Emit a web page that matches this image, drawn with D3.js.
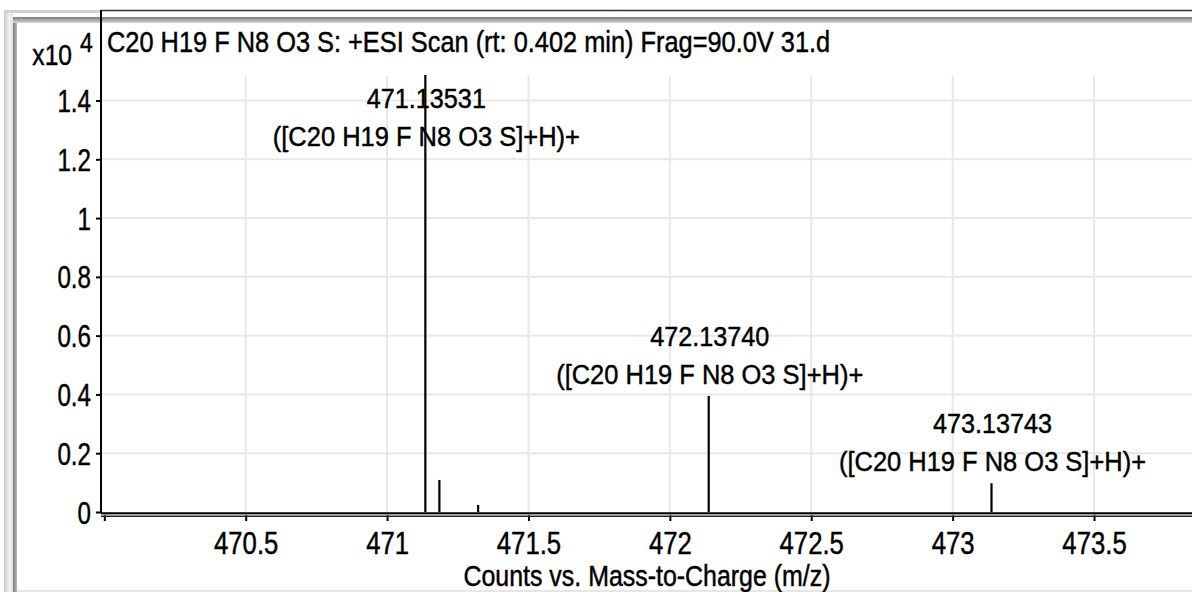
<!DOCTYPE html>
<html><head><meta charset="utf-8">
<script src="https://cdn.jsdelivr.net/npm/d3@7"></script>
<style>
html,body{margin:0;padding:0;background:#fff;}
svg{display:block;}
text{font-family:"Liberation Sans",Arial,sans-serif;fill:#000;stroke:#000;stroke-width:0.45px;}
</style></head>
<body>
<svg id="chart" width="1192" height="592"></svg>
<script>
// ---- data ----
const titleText = "C20 H19 F N8 O3 S: +ESI Scan (rt: 0.402 min) Frag=90.0V 31.d";
const xAxisTitle = "Counts vs. Mass-to-Charge (m/z)";
const yExponent = "4";
const peakMz = [471.13531, 471.185, 471.322, 472.13740, 473.13743];
const peakIntensity = [1.487, 0.109, 0.024, 0.395, 0.098]; // x10^4 counts
const labelMz = [471.13531, 472.13740, 473.13743];
const labelIntensity = [1.487, 0.395, 0.098];
const labelMass = ["471.13531", "472.13740", "473.13743"];
const labelFormula = ["([C20 H19 F N8 O3 S]+H)+", "([C20 H19 F N8 O3 S]+H)+", "([C20 H19 F N8 O3 S]+H)+"];
const xTickValues = [470, 470.5, 471, 471.5, 472, 472.5, 473, 473.5];
const xTickLabels = ["", "470.5", "471", "471.5", "472", "472.5", "473", "473.5"];
const yTickValues = [0, 0.2, 0.4, 0.6, 0.8, 1, 1.2, 1.4];
const yTickLabels = ["0", "0.2", "0.4", "0.6", "0.8", "1", "1.2", "1.4"];

// ---- layout ----
const W = 1192, H = 592;
const L = 101, R = 1192, B = 512, T = 10, gridTop = 76;
const svg = d3.select("#chart");

const x = d3.scaleLinear().domain([469.9883, 473.8465]).range([L, R]);
const y = d3.scaleLinear().domain([0, 1.708]).range([B, T]);

// frame bevel
const defs = svg.append("defs");
const gl = defs.append("linearGradient").attr("id","lg").attr("x1","0").attr("x2","1");
gl.append("stop").attr("offset","0").attr("stop-color","#c8c8c8");
gl.append("stop").attr("offset","0.6").attr("stop-color","#f2f2f2");
gl.append("stop").attr("offset","1").attr("stop-color","#e0e0e0");
svg.append("rect").attr("x",4).attr("y",10).attr("width",9).attr("height",H-10).attr("fill","url(#lg)");
const gl2 = defs.append("linearGradient").attr("id","lg2").attr("x1","0").attr("x2","1");
gl2.append("stop").attr("offset","0").attr("stop-color","#7a7a7a");
gl2.append("stop").attr("offset","1").attr("stop-color","#b8b8b8");
svg.append("rect").attr("x",13).attr("y",17).attr("width",4).attr("height",H-17).attr("fill","url(#lg2)");
const gt = defs.append("linearGradient").attr("id","gt").attr("x1","0").attr("x2","0").attr("y1","0").attr("y2","1");
gt.append("stop").attr("offset","0").attr("stop-color","#7a7a7a");
gt.append("stop").attr("offset","1").attr("stop-color","#d8d8d8");
svg.append("rect").attr("x",13).attr("y",17).attr("width",W-13).attr("height",6).attr("fill","url(#gt)");
svg.append("rect").attr("x",4).attr("y",10).attr("width",L-4).attr("height",3).attr("fill","#d0d0d0");
svg.append("line").attr("x1",L).attr("x2",W).attr("y1",10.5).attr("y2",10.5).attr("stroke","#333").attr("stroke-width",1.5);
svg.append("rect").attr("x",17).attr("y",H-2).attr("width",W-17).attr("height",2).attr("fill","#e6e6e6");

// grid
svg.append("g").selectAll("line").data(xTickValues.filter((d,i)=>xTickLabels[i]!=="")).join("line")
  .attr("x1",d=>x(d)).attr("x2",d=>x(d)).attr("y1",gridTop).attr("y2",B)
  .attr("stroke","#e8e8e8").attr("stroke-width",2);
svg.append("g").selectAll("line").data(yTickValues.filter(d=>d>0)).join("line")
  .attr("x1",L).attr("x2",R).attr("y1",d=>y(d)).attr("y2",d=>y(d))
  .attr("stroke","#e8e8e8").attr("stroke-width",2);

// text helper
function txt(g, px, py, s, size, sx, anchor){
  return g.append("text").attr("transform",`translate(${px},${py}) scale(${sx},1)`)
    .attr("font-size",size).attr("text-anchor",anchor||"start").text(s);
}

// peaks
svg.append("g").selectAll("line").data(peakMz).join("line")
  .attr("x1",d=>x(d)).attr("x2",d=>x(d))
  .attr("y1",B).attr("y2",(d,i)=>y(peakIntensity[i]))
  .attr("stroke","#000").attr("stroke-width",2.2);

// peak labels
const lg = svg.append("g");
labelMz.forEach((m,i)=>{
  const top = y(labelIntensity[i]);
  const b2 = Math.max(top - 12, 146);
  txt(lg, x(m)+1, b2 - 38, labelMass[i], 28, 0.9, "middle");
  txt(lg, x(m)+1, b2, labelFormula[i], 28, 0.91, "middle");
});

// y axis
const yAxis = d3.axisLeft(y).tickValues(yTickValues).tickFormat((d,i)=>yTickLabels[i]).tickSize(5).tickPadding(0);
const ya = svg.append("g").attr("transform",`translate(${L},0)`).call(yAxis);
ya.select(".domain").remove();
ya.selectAll(".tick line").attr("stroke","#000").attr("stroke-width",2);
ya.selectAll(".tick text").attr("font-size",31).attr("x",null).attr("dy",null)
  .attr("transform","translate(-10,11) scale(0.78,1)").attr("text-anchor","end")
  .attr("font-family","Liberation Sans, Arial, sans-serif").attr("fill","#000");
svg.append("line").attr("x1",L).attr("x2",L).attr("y1",T).attr("y2",B+1).attr("stroke","#000").attr("stroke-width",2);

// x axis
const xAxis = d3.axisBottom(x).tickValues(xTickValues).tickFormat((d,i)=>xTickLabels[i]).tickSize(8).tickPadding(0);
const xa = svg.append("g").attr("transform",`translate(0,${B+1})`).call(xAxis);
xa.select(".domain").remove();
xa.selectAll(".tick line").attr("stroke","#000").attr("stroke-width",2);
xa.selectAll(".tick text").attr("font-size",31).attr("y",null).attr("dy",null)
  .attr("transform","translate(0,40.5) scale(0.83,1)").attr("text-anchor","middle")
  .attr("font-family","Liberation Sans, Arial, sans-serif").attr("fill","#000");
svg.append("line").attr("x1",L).attr("x2",R).attr("y1",B+1.2).attr("y2",B+1.2).attr("stroke","#000").attr("stroke-width",1.8);
svg.append("line").attr("x1",L).attr("x2",R).attr("y1",B+4.3).attr("y2",B+4.3).attr("stroke","#222").attr("stroke-width",1.4);
svg.append("rect").attr("x",L).attr("y",B+2.1).attr("width",R-L).attr("height",1.3).attr("fill","#999");

// titles
txt(svg, 107, 52, titleText, 29, 0.875, "start");
txt(svg, 647, 585.5, xAxisTitle, 29, 0.86, "middle");
txt(svg, 72, 65, "x10", 30, 0.82, "end");
txt(svg, 80, 52, yExponent, 28, 0.82, "start");
</script>
</body></html>
